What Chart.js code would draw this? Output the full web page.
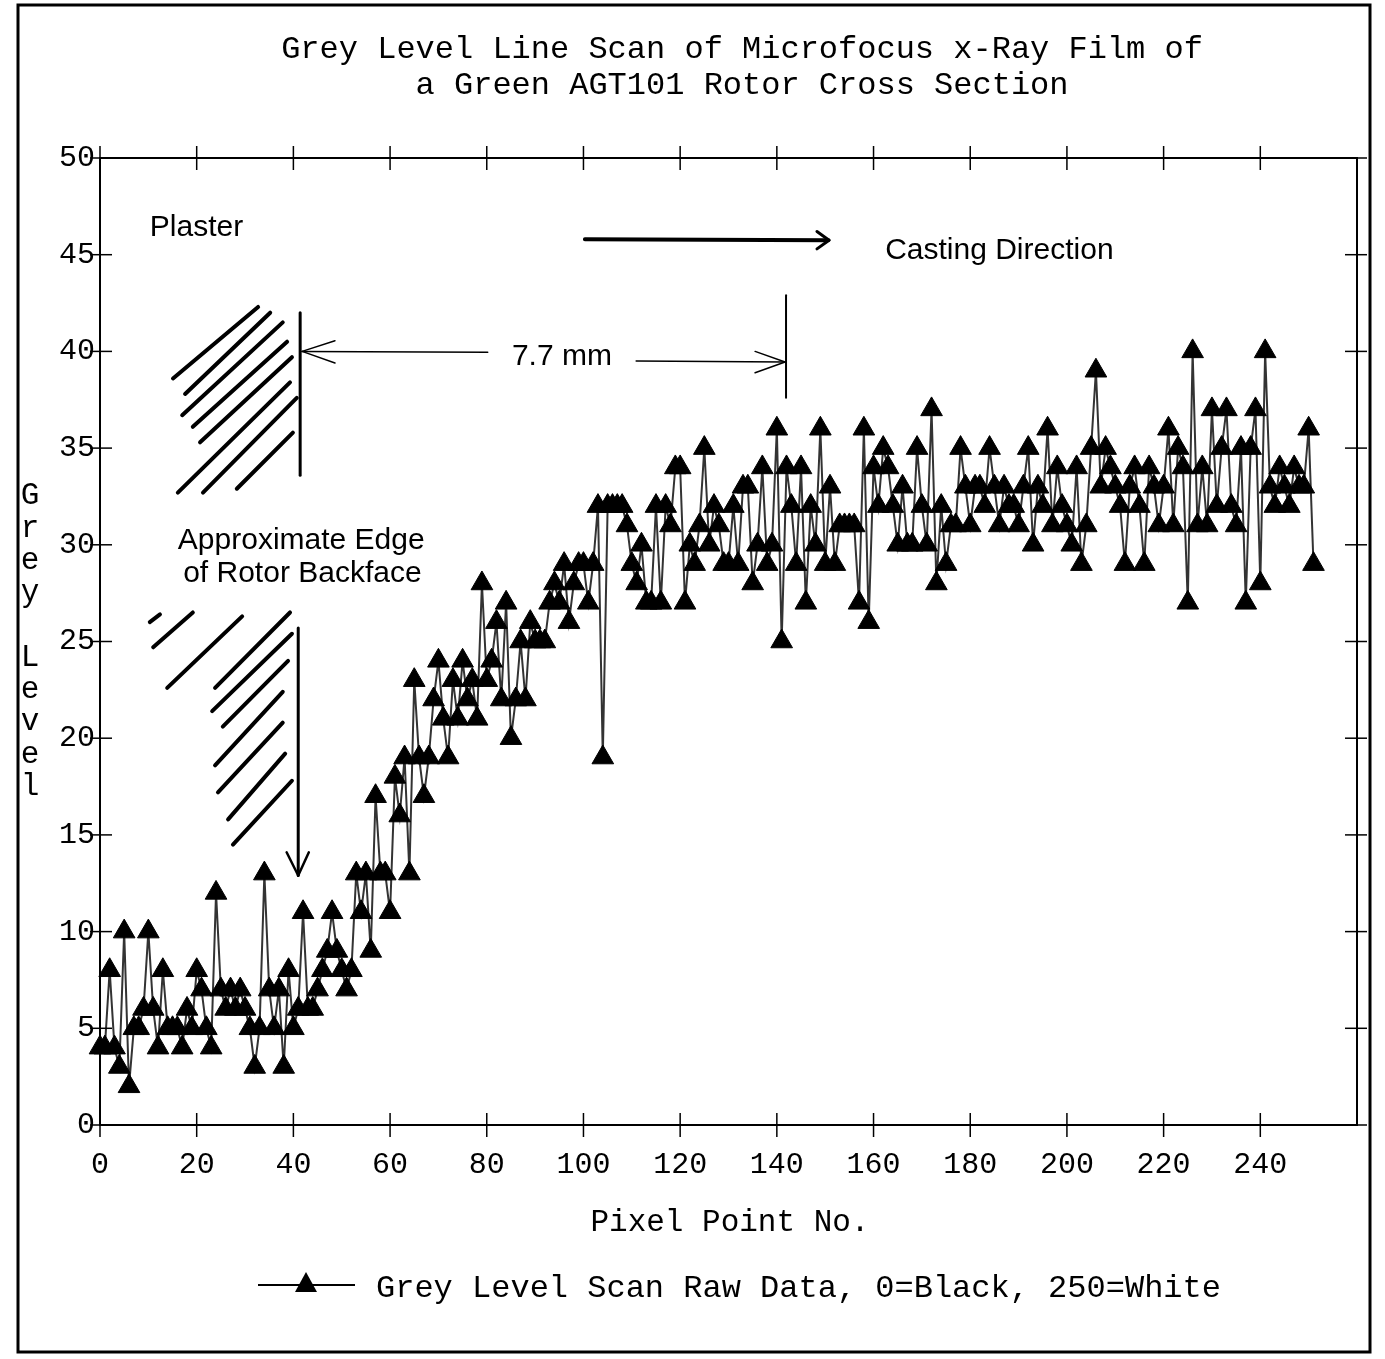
<!DOCTYPE html>
<html>
<head>
<meta charset="utf-8">
<script src="https://cdn.jsdelivr.net/npm/chart.js@4.4.1/dist/chart.umd.min.js"></script>
<style>
  html, body { margin: 0; padding: 0; background: #fff; }
  canvas { display: block; }
</style>
</head>
<body>
<canvas id="scanChart" width="1385" height="1359"></canvas>
<script>
// Grey level, one value per pixel point (0..251)
const greyLevel = [
  4, 4, 8, 4, 3, 10, 2, 5, 5, 6,
  10, 6, 4, 8, 5, 5, 5, 4, 6, 5,
  8, 7, 5, 4, 12, 7, 6, 7, 6, 7,
  6, 5, 3, 5, 13, 7, 5, 7, 3, 8,
  5, 6, 11, 6, 6, 7, 8, 9, 11, 9,
  8, 7, 8, 13, 11, 13, 9, 17, 13, 13,
  11, 18, 16, 19, 13, 23, 19, 17, 19, 22,
  24, 21, 19, 23, 21, 24, 22, 23, 21, 28,
  23, 24, 26, 22, 27, 20, 22, 25, 22, 26,
  25, 25, 25, 27, 28, 27, 29, 26, 28, 29,
  29, 27, 29, 32, 19, 32, 32, 32, 32, 31,
  29, 28, 30, 27, 27, 32, 27, 32, 31, 34,
  34, 27, 30, 29, 31, 35, 30, 32, 31, 29,
  29, 32, 29, 33, 33, 28, 30, 34, 29, 30,
  36, 25, 34, 32, 29, 34, 27, 32, 30, 36,
  29, 33, 29, 31, 31, 31, 31, 27, 36, 26,
  34, 32, 35, 34, 32, 30, 33, 30, 30, 35,
  32, 30, 37, 28, 32, 29, 31, 31, 35, 33,
  31, 33, 33, 32, 35, 33, 31, 33, 32, 32,
  31, 33, 35, 30, 33, 32, 36, 31, 34, 32,
  31, 30, 34, 29, 31, 35, 39, 33, 35, 34,
  33, 32, 29, 33, 34, 32, 29, 34, 33, 31,
  33, 36, 31, 35, 34, 27, 40, 31, 34, 31,
  37, 32, 35, 37, 32, 31, 35, 27, 35, 37,
  28, 40, 33, 32, 34, 33, 32, 34, 33, 33,
  36, 29
];
const pixelNo = greyLevel.map((_, i) => i);

const titleLines = [
  "Grey Level Line Scan of Microfocus x-Ray Film of",
  "a Green AGT101 Rotor Cross Section"
];
const xTitle = "Pixel Point No.";
const yTitle = "Grey Level";
const legendLabel = "Grey Level Scan Raw Data, 0=Black, 250=White";

const monoFont = '"Liberation Mono", "Courier New", monospace';
const sansFont = '"Liberation Sans", Arial, sans-serif';

// Hatching and arrows drawn on top of the plot (in data units)
const upperHatch = [
  [15.1, 38.6, 32.7, 42.3], [17.6, 37.8, 35.2, 42.0], [17.0, 36.7, 37.8, 41.5],
  [19.2, 36.1, 38.7, 40.5], [20.7, 35.3, 39.7, 39.7], [16.1, 32.7, 39.3, 38.4],
  [21.3, 32.7, 40.7, 37.6], [28.3, 32.9, 39.9, 35.8]
];
const lowerHatch = [
  [10.3, 26.0, 12.4, 26.4], [11.0, 24.7, 19.2, 26.5], [13.9, 22.6, 29.4, 26.3],
  [23.8, 22.6, 39.3, 26.5], [23.2, 21.4, 39.7, 25.4], [25.4, 20.6, 38.9, 24.0],
  [23.8, 18.6, 37.8, 22.4], [24.4, 17.2, 37.8, 20.8], [26.5, 15.8, 38.3, 19.2],
  [27.5, 14.5, 39.7, 17.8]
];

function line(ctx, x1, y1, x2, y2, w) {
  ctx.lineWidth = w;
  ctx.beginPath();
  ctx.moveTo(x1, y1);
  ctx.lineTo(x2, y2);
  ctx.stroke();
}

const decorPlugin = {
  id: "decor",
  afterDraw(chart) {
    const ctx = chart.ctx;
    const xs = chart.scales.x;
    const ys = chart.scales.y;
    const X = v => xs.getPixelForValue(v);
    const Y = v => ys.getPixelForValue(v);
    const { left, right, top, bottom } = chart.chartArea;

    ctx.save();
    ctx.strokeStyle = "#000";
    ctx.fillStyle = "#000";
    ctx.lineCap = "round";

    // outer frame
    ctx.lineWidth = 3;
    ctx.strokeRect(18, 5, 1352, 1347);

    // plot box
    ctx.lineWidth = 2;
    ctx.strokeRect(left, top, right - left, bottom - top);

    // crossing tick marks
    ctx.lineCap = "butt";
    ys.ticks.forEach(t => {
      line(ctx, left - 10, Y(t.value), left + 12, Y(t.value), 1.5);
      line(ctx, right - 12, Y(t.value), right + 10, Y(t.value), 1.5);
    });
    xs.ticks.forEach(t => {
      if (t.value > 240) return;
      line(ctx, X(t.value), bottom - 12, X(t.value), bottom + 12, 1.5);
      line(ctx, X(t.value), top - 12, X(t.value), top + 12, 1.5);
    });

    // titles
    ctx.textAlign = "center";
    ctx.textBaseline = "middle";
    ctx.font = "32px " + monoFont;
    ctx.fillText(titleLines[0], X(132.8), top - 108);
    ctx.fillText(titleLines[1], X(132.8), top - 72);
    ctx.font = "31px " + monoFont;
    ctx.fillText(xTitle, X(130.3), bottom + 98);

    // stacked y title
    const mid = Y(25);
    const letters = yTitle.split("");
    letters.forEach((ch, i) => {
      if (ch !== " ") ctx.fillText(ch, 30, mid + (i - 4.5) * 32.3);
    });

    // legend
    const ly = bottom + 160;
    line(ctx, 258, ly, 355, ly, 2);
    ctx.beginPath();
    ctx.moveTo(306, ly - 13);
    ctx.lineTo(317, ly + 7);
    ctx.lineTo(295, ly + 7);
    ctx.closePath();
    ctx.fill();
    ctx.textAlign = "left";
    ctx.font = "32px " + monoFont;
    ctx.fillText(legendLabel, 376, ly + 4);

    // annotations
    ctx.font = "30px " + sansFont;
    ctx.fillText("Plaster", X(10.3), Y(46.4));
    ctx.fillText("Casting Direction", X(162.4), Y(45.2));
    ctx.fillText("Approximate Edge", X(16.1), Y(30.2));
    ctx.fillText("of Rotor Backface", X(17.2), Y(28.5));
    ctx.fillText("7.7 mm", X(85.2), Y(39.7));

    ctx.lineCap = "round";
    // casting direction arrow
    line(ctx, X(100.3), Y(45.8), X(150.5), Y(45.75), 4);
    line(ctx, X(150.8), Y(45.75), X(148.3), Y(46.2), 3);
    line(ctx, X(150.8), Y(45.75), X(148.3), Y(45.3), 3);

    // upper hatch and edge line
    upperHatch.forEach(h => line(ctx, X(h[0]), Y(h[1]), X(h[2]), Y(h[3]), 4));
    line(ctx, X(41.4), Y(42.0), X(41.4), Y(33.6), 3);

    // 7.7 mm dimension
    line(ctx, X(41.8), Y(40.0), X(80.2), Y(39.95), 1.5);
    line(ctx, X(41.8), Y(40.0), X(48.6), Y(40.55), 1.5);
    line(ctx, X(41.8), Y(40.0), X(48.6), Y(39.4), 1.5);
    line(ctx, X(110.9), Y(39.5), X(141.7), Y(39.45), 1.5);
    line(ctx, X(141.7), Y(39.45), X(135.5), Y(40.0), 1.5);
    line(ctx, X(141.7), Y(39.45), X(135.5), Y(38.9), 1.5);
    line(ctx, X(141.9), Y(42.9), X(141.9), Y(37.6), 2);

    // lower hatch and arrow down
    lowerHatch.forEach(h => line(ctx, X(h[0]), Y(h[1]), X(h[2]), Y(h[3]), 4));
    line(ctx, X(41.0), Y(25.7), X(41.0), Y(12.9), 3);
    line(ctx, X(41.0), Y(12.9), X(38.6), Y(14.1), 2.5);
    line(ctx, X(41.0), Y(12.9), X(43.2), Y(14.1), 2.5);

    ctx.restore();
  }
};

const chart = new Chart(document.getElementById("scanChart"), {
  type: "line",
  data: {
    datasets: [{
      label: legendLabel,
      data: greyLevel.map((v, i) => ({ x: pixelNo[i], y: v })),
      borderColor: "#333",
      borderWidth: 2,
      pointStyle: "triangle",
      pointRadius: 12.5,
      pointBackgroundColor: "#000",
      pointBorderColor: "#000",
      pointBorderWidth: 1,
      tension: 0,
      clip: false
    }]
  },
  options: {
    responsive: false,
    animation: false,
    layout: { padding: { left: 0, top: 158, right: 28, bottom: 0 } },
    plugins: { legend: { display: false }, tooltip: { enabled: false } },
    scales: {
      x: {
        type: "linear",
        min: 0,
        max: 260,
        afterFit: s => { s.height = 234; },
        grid: { display: false, drawTicks: false },
        border: { display: false },
        ticks: {
          stepSize: 20,
          padding: 22,
          autoSkip: false,
          maxRotation: 0,
          color: "#000",
          font: { family: monoFont, size: 30 },
          callback: v => (v <= 240 ? v : "")
        }
      },
      y: {
        min: 0,
        max: 50,
        afterFit: s => { s.width = 100; },
        grid: { display: false, drawTicks: false },
        border: { display: false },
        ticks: {
          stepSize: 5,
          padding: 5,
          color: "#000",
          font: { family: monoFont, size: 30 }
        }
      }
    }
  },
  plugins: [decorPlugin]
});
</script>
</body>
</html>
